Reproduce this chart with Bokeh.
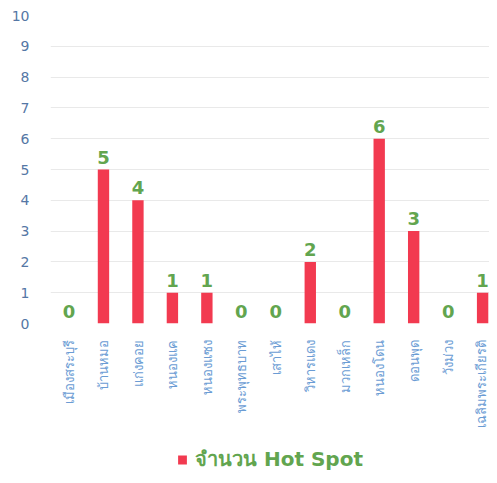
from bokeh.plotting import figure
from bokeh.layouts import column
from bokeh.models import ColumnDataSource, Range1d, Legend, LegendItem, FixedTicker
from bokeh.core.properties import value
from bokeh.embed import file_html
from bokeh.resources import INLINE

districts = ["เมืองสระบุรี", "บ้านหมอ", "แก่งคอย", "หนองแค", "หนองแซง", "พระพุทธบาท",
             "เสาไห้", "วิหารแดง", "มวกเหล็ก", "หนองโดน", "ดอนพุด", "วังม่วง", "เฉลิมพระเกียรติ"]
hotspots = [0, 5, 4, 1, 1, 0, 0, 2, 0, 6, 3, 0, 1]
y_ticks = list(range(0, 11))
series_name = "จำนวน Hot Spot"

BAR = "#f23a50"
GREEN = "#62a54f"

idx = list(range(len(districts)))
src = ColumnDataSource(dict(x=idx, top=hotspots, lab=[str(v) for v in hotspots]))

p = figure(width=489, height=441, output_backend="svg", toolbar_location=None,
           x_range=Range1d(-0.537, 12.2), y_range=Range1d(0, 10),
           min_border_left=50, min_border_right=0, min_border_top=15, min_border_bottom=118)
p.outline_line_color = None
p.background_fill_color = "white"
p.border_fill_color = "white"

bars = p.vbar(x="x", top="top", width=0.33, bottom=0, source=src,
              fill_color=BAR, line_color=None)
p.text(x="x", y="top", text="lab", source=src, text_align="center",
       text_baseline="bottom", y_offset=-6, text_font=value("DejaVu Sans"),
       text_font_style="bold", text_font_size="18px", text_color=GREEN)

p.xgrid.grid_line_color = None
p.ygrid.grid_line_color = "#e9e9e9"
p.ygrid.ticker = FixedTicker(ticks=y_ticks)

p.yaxis.ticker = FixedTicker(ticks=y_ticks)
p.yaxis.axis_line_color = None
p.yaxis.major_tick_line_color = None
p.yaxis.minor_tick_line_color = None
p.yaxis.major_label_standoff = 15
p.yaxis.major_label_text_font = "DejaVu Sans"
p.yaxis.major_label_text_font_size = "14px"
p.yaxis.major_label_text_color = "#5577a5"

p.xaxis.ticker = FixedTicker(ticks=idx)
p.xaxis.major_label_overrides = {i: d for i, d in zip(idx, districts)}
p.xaxis.major_label_orientation = 3.14159265 / 2
p.xaxis.axis_line_color = None
p.xaxis.major_tick_line_color = None
p.xaxis.minor_tick_line_color = None
p.xaxis.major_label_standoff = 10
p.xaxis.major_label_text_font = "Noto Sans"
p.xaxis.major_label_text_font_size = "13px"
p.xaxis.major_label_text_color = "#6b9cd4"

# legend strip below the chart, its frame aligned with the chart's frame
lf = figure(width=489, height=34, output_backend="svg", toolbar_location=None,
            x_axis_location=None, y_axis_location=None,
            x_range=Range1d(0, 1), y_range=Range1d(0, 1),
            min_border_left=50, min_border_right=0, min_border_top=0, min_border_bottom=0)
lf.outline_line_color = None
lf.xgrid.grid_line_color = None
lf.ygrid.grid_line_color = None
key = lf.vbar(x=[5], top=[5], width=0.1, fill_color=BAR, line_color=None)

legend = Legend(items=[LegendItem(label=series_name, renderers=[key])],
                location="bottom_center", orientation="horizontal")
legend.border_line_color = None
legend.background_fill_alpha = 0
legend.label_text_color = GREEN
legend.label_text_font = "DejaVu Sans"
legend.label_text_font_style = "bold"
legend.label_text_font_size = "20px"
legend.glyph_width = 11
legend.glyph_height = 11
legend.padding = 0
legend.margin = 0
legend.label_standoff = 8
lf.add_layout(legend, "center")

layout = column(p, lf, spacing=0)
open("out.html", "w").write(file_html(layout, INLINE))
